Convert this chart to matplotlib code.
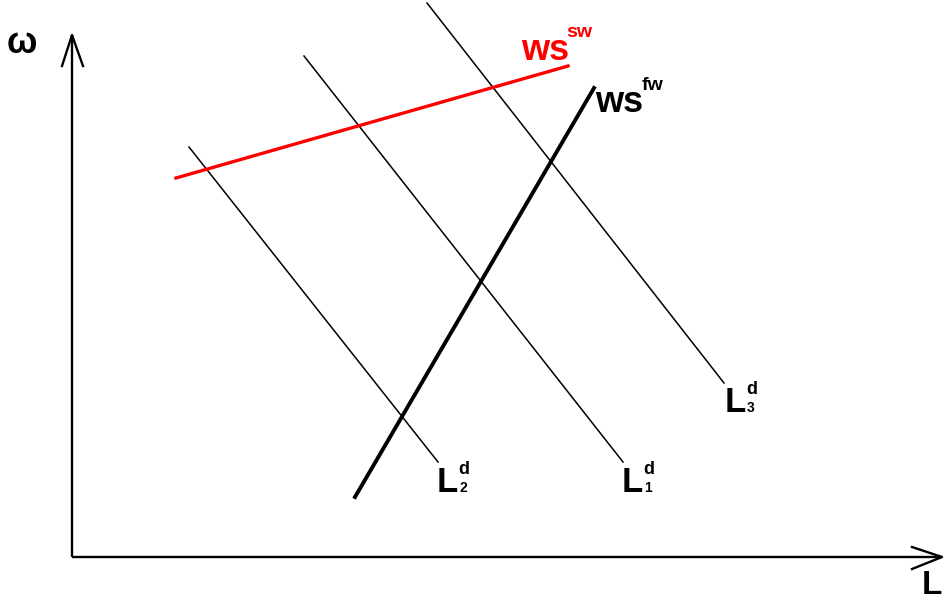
import matplotlib
matplotlib.use("Agg")
import matplotlib.pyplot as plt

# Diagram coordinates (pixel space of the original drawing, y grows downward)
ws_sw_x = [176, 568]
ws_sw_y = [178, 66]

ws_fw_x = [355, 594]
ws_fw_y = [497, 88]

ld1_x = [304, 623]
ld1_y = [56, 462]
ld2_x = [189, 438]
ld2_y = [147, 462]
ld3_x = [427, 724]
ld3_y = [3, 383]

# axes of the diagram
origin = (72, 557)
y_axis_top = 35
x_axis_end = 942

plt.rcParams['font.family'] = ['Liberation Sans', 'DejaVu Sans']

fig = plt.figure(figsize=(9.45, 6.03), dpi=100)
ax = fig.add_axes([0, 0, 1, 1])
ax.set_xlim(0, 945)
ax.set_ylim(603, 0)
ax.axis('off')

# axes with open arrow heads
ax.plot([origin[0], origin[0]], [origin[1], y_axis_top], color='black', lw=1.7, solid_capstyle='butt')
ax.plot([origin[0], x_axis_end], [origin[1], origin[1]], color='black', lw=1.7, solid_capstyle='butt')
ax.plot([62, origin[0], 83], [66, y_axis_top, 66], color='black', lw=1.7)
ax.plot([912, x_axis_end, 912], [547, origin[1], 569], color='black', lw=1.7)

# labour demand curves
for xs, ys in [(ld1_x, ld1_y), (ld2_x, ld2_y), (ld3_x, ld3_y)]:
    ax.plot(xs, ys, color='black', lw=1.1)

# wage setting curves
ax.plot(ws_sw_x, ws_sw_y, color='#ff0000', lw=2.4)
ax.plot(ws_fw_x, ws_fw_y, color='black', lw=2.8)

bold = dict(fontweight='bold')

ax.text(7, 53, 'ω', fontsize=26, va='baseline', ha='left', **bold)
ax.text(942, 601, 'L', fontsize=24, va='bottom', ha='right', **bold)

ax.text(521, 60, 'ws', fontsize=26, color='#ff0000', va='baseline', ha='left', **bold)
ax.text(566, 37, 'sw', fontsize=14, color='#ff0000', va='baseline', ha='left', **bold)

ax.text(595, 112, 'ws', fontsize=26, va='baseline', ha='left', **bold)
ax.text(642, 90, 'fw', fontsize=14, va='baseline', ha='left', **bold)

for x0, y0, sub in [(437, 492, '2'), (622, 492, '1'), (725, 412, '3')]:
    ax.text(x0, y0, 'L', fontsize=25, va='baseline', ha='left', **bold)
    ax.text(x0 + 21, y0 - 18, 'd', fontsize=13, va='baseline', ha='left', **bold)
    ax.text(x0 + 22, y0, sub, fontsize=10, va='baseline', ha='left', **bold)

fig.savefig('out.png', dpi=100)
